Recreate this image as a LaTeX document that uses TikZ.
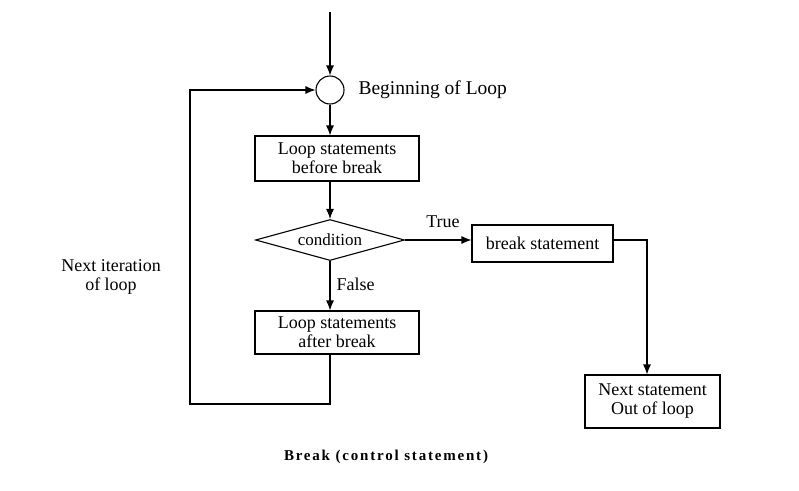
\documentclass[tikz,border=0pt]{standalone}
\usepackage{fontspec}
\setmainfont{Liberation Serif}
\newfontfamily\capfont[LetterSpace=12]{Liberation Serif}
\usetikzlibrary{arrows.meta,shapes.geometric}
\begin{document}
\begin{tikzpicture}[x=1pt,y=-1pt,
  line width=1.1pt,
  arr/.style={-{Latex[length=10pt,width=8pt]}},
  box/.style={draw,rectangle,inner sep=0pt,align=center,font=\fontsize{18}{19}\selectfont},
  lbl/.style={font=\fontsize{18}{19}\selectfont,inner sep=0pt},
]
\useasboundingbox (0,0) rectangle (799,490);
\coordinate (top) at (330,12);
\node[draw,circle,minimum size=28pt,inner sep=0pt] (c) at (330,90) {};
\node[lbl,anchor=west,font=\fontsize{19.5}{20}\selectfont] (beg) at (358,90) {Beginning of Loop};
\node[box,minimum width=164pt,minimum height=45pt] (b1) at (337,158.5) {Loop statements\\before break};
\node[draw,diamond,aspect=3.6,minimum width=149pt,minimum height=41pt,inner sep=0pt,font=\fontsize{17}{18}\selectfont] (d) at (330,240) {condition};
\node[box,minimum width=141pt,minimum height=37pt] (brk) at (542.5,243.5) {break statement};
\node[box,minimum width=164pt,minimum height=43pt] (b2) at (337,332.5) {Loop statements\\after break};
\node[box,minimum width=135pt,minimum height=53pt] (nx) at (652.5,401.5) {Next statement\\Out of loop};
\node[lbl] (true) at (443,222) {True};
\node[lbl,anchor=west] (false) at (336,284) {False};
\node[lbl,align=center] (iter) at (111,277) {Next iteration\\of loop};
\node[font=\capfont\bfseries\fontsize{15}{16}\selectfont,inner sep=0pt] (cap) at (386,457) {Break (control statement)};

\coordinate (d1) at (330,404);
\coordinate (d2) at (190,404);
\coordinate (d3) at (190,90);
\coordinate (r1) at (647,240);

\draw[arr] (top) -- (c.north);
\draw[arr] (c.south) -- (c.south |- b1.north);
\draw[arr] (c.south |- b1.south) -- (d.north);
\draw[arr] (d.east) -- (brk.west |- d.east);
\draw[arr] (d.south) -- (d.south |- b2.north);
\draw[arr] (brk.east |- r1) -- (r1) -- (r1 |- nx.north);
\draw[arr] (d.south |- b2.south) -- (d1) -- (d2) -- (d3) -- (c.west);
\end{tikzpicture}
\end{document}
